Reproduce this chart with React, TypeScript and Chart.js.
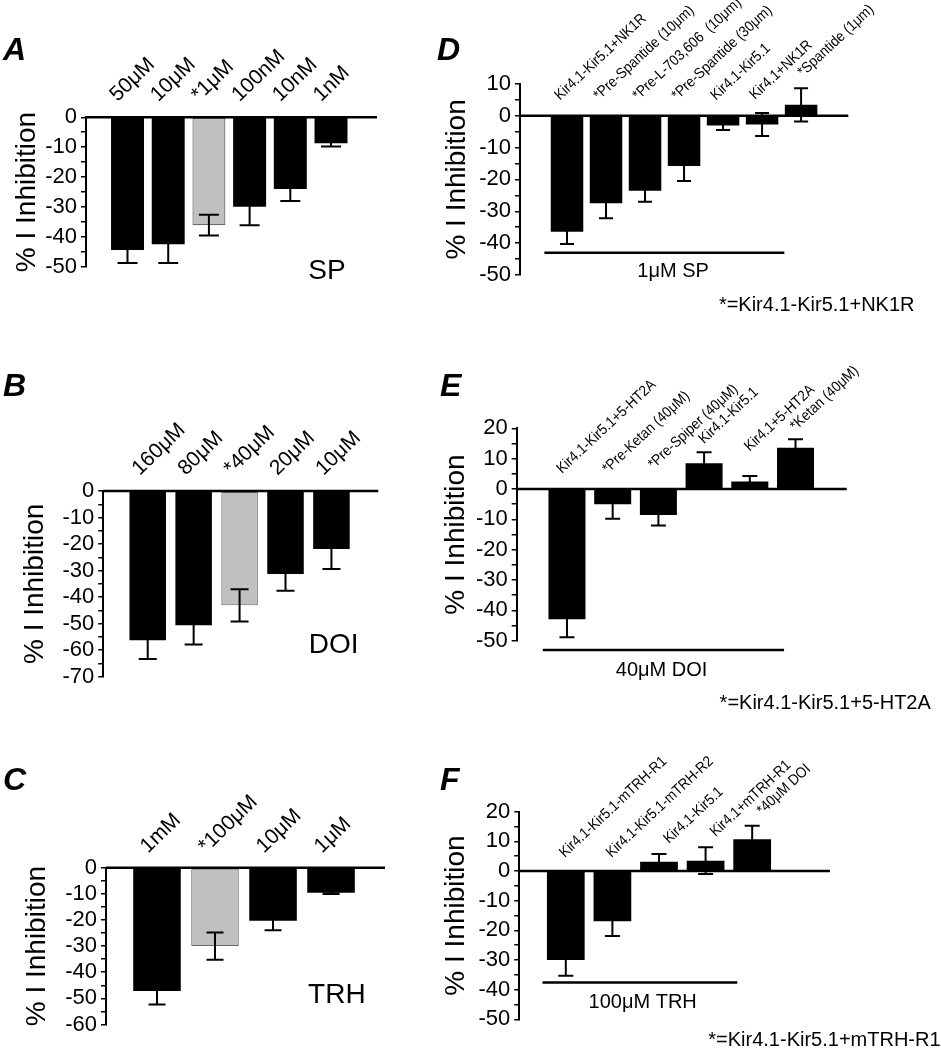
import React, { useEffect, useRef } from 'react';
import { Chart, registerables } from 'chart.js';

Chart.register(...registerables);

const FONT = "'Liberation Sans', Arial, Helvetica, sans-serif";
Chart.defaults.font.family = FONT;
Chart.defaults.color = '#000';

// ---------- data ----------
const Y_TITLE = '% I Inhibition';

const A_LABELS = ['50μM', '10μM', '*1μM', '100nM', '10nM', '1nM'];
const A_MEANS = [-44.4, -42.5, -36.1, -29.9, -24.0, -8.7];
const A_SEMS = [4.4, 6.3, 3.5, 6.2, 4.0, 1.1];
const A_AGONIST = 'SP';

const B_LABELS = ['160μM', '80μM', '*40μM', '20μM', '10μM'];
const B_MEANS = [-56.3, -50.6, -43.1, -31.3, -21.9];
const B_SEMS = [7.0, 7.3, 6.1, 6.3, 7.5];
const B_AGONIST = 'DOI';

const C_LABELS = ['1mM', '*100μM', '10μM', '1μM'];
const C_MEANS = [-47.2, -30.0, -20.3, -9.6];
const C_SEMS = [5.1, 5.2, 3.6, 0.5];
const C_AGONIST = 'TRH';

const D_LABELS = [
  'Kir4.1-Kir5.1+NK1R',
  '*Pre-Spantide (10μm)',
  '*Pre-L-703,606  (10μm)',
  '*Pre-Spantide (30μm)',
  'Kir4.1-Kir5.1',
  'Kir4.1+NK1R',
  '*Spantide (1μm)',
];
const D_MEANS = [-36.4, -27.5, -23.6, -15.8, -3.1, -2.8, 3.4];
const D_SEMS = [3.9, 4.7, 3.4, 4.7, 1.4, 3.6, 5.2];
const D_GROUP = '1μM SP';
const D_FOOTNOTE = '*=Kir4.1-Kir5.1+NK1R';

const E_LABELS = [
  'Kir4.1-Kir5.1+5-HT2A',
  '*Pre-Ketan (40μM)',
  '*Pre-Spiper (40μM)',
  'Kir4.1-Kir5.1',
  'Kir4.1+5-HT2A',
  '*Ketan (40μM)',
];
const E_MEANS = [-42.9, -5.0, -8.6, 8.5, 2.5, 13.6];
const E_SEMS = [6.0, 4.8, 3.4, 3.6, 1.8, 2.8];
const E_GROUP = '40μM DOI';
const E_FOOTNOTE = '*=Kir4.1-Kir5.1+5-HT2A';

const F_LABELS = [
  'Kir4.1-Kir5.1-mTRH-R1',
  'Kir4.1-Kir5.1-mTRH-R2',
  'Kir4.1-Kir5.1',
  'Kir4.1+mTRH-R1',
  '*40μM DOI',
];
const F_MEANS = [-30.0, -16.9, 3.1, 3.5, 10.7];
const F_SEMS = [5.3, 5.0, 2.6, 4.5, 4.6];
const F_GROUP = '100μM TRH';
const F_FOOTNOTE = '*=Kir4.1-Kir5.1+mTRH-R1';

// ---------- layout ----------
type Note = { text: string; x: number; y: number; size: number };
type Group = { x0: number; x1: number; y: number };
type PanelCfg = {
  id: string;
  letter: string;
  letterX: number;
  letterY: number;
  labels: string[];
  means: number[];
  sems: number[];
  highlight: number;
  left: number;
  top: number;
  width: number;
  height: number;
  pad: { top: number; right: number; bottom: number; left: number };
  axisWidth: number;
  titlePad: number;
  yMin: number;
  yMax: number;
  xMin: number;
  xMax: number;
  barPct: number;
  cap: number;
  labelSize: number;
  labelSqueeze: number;
  labelAngle: number;
  labelDx: number;
  labelDy: number;
  capDx: number;
  capDy: number;
  labelSep: number;
  notes: Note[];
  group?: Group;
};

const PANELS: PanelCfg[] = [
  {
    id: 'A', letter: 'A', letterX: 3, letterY: 37,
    labels: A_LABELS, means: A_MEANS, sems: A_SEMS, highlight: 2,
    left: 0, top: 0, width: 420, height: 330,
    pad: { top: 117.3, right: 43, bottom: 63.3, left: 0 },
    axisWidth: 86, titlePad: 10, yMin: -50, yMax: 0, xMin: -1.02, xMax: 6.13,
    barPct: 0.81, cap: 20, labelSize: 21, labelSqueeze: 1, labelAngle: 44, labelDx: -10, labelDy: -15,
    capDx: 0, capDy: -10, labelSep: 30,
    notes: [{ text: A_AGONIST, x: 4.9, y: -51.7, size: 28 }],
  },
  {
    id: 'B', letter: 'B', letterX: 3, letterY: 373,
    labels: B_LABELS, means: B_MEANS, sems: B_SEMS, highlight: 2,
    left: 0, top: 330, width: 420, height: 400,
    pad: { top: 161, right: 41.7, bottom: 53.3, left: 0 },
    axisWidth: 103.3, titlePad: 18, yMin: -70, yMax: 0, xMin: -0.967, xMax: 5.02,
    barPct: 0.795, cap: 18, labelSize: 21, labelSqueeze: 1, labelAngle: 44, labelDx: -8, labelDy: -15,
    capDx: 0, capDy: -10, labelSep: 30,
    notes: [{ text: B_AGONIST, x: 4.05, y: -58.1, size: 28 }],
  },
  {
    id: 'C', letter: 'C', letterX: 3, letterY: 767,
    labels: C_LABELS, means: C_MEANS, sems: C_SEMS, highlight: 1,
    left: 0, top: 730, width: 420, height: 320,
    pad: { top: 137.7, right: 35, bottom: 25.5, left: 0 },
    axisWidth: 106, titlePad: 20, yMin: -60, yMax: 0, xMin: -0.879, xMax: 3.93,
    barPct: 0.82, cap: 17, labelSize: 21, labelSqueeze: 1, labelAngle: 44, labelDx: -9, labelDy: -14,
    capDx: 0, capDy: -10, labelSep: 30,
    notes: [{ text: C_AGONIST, x: 3.1, y: -48.7, size: 28 }],
  },
  {
    id: 'D', letter: 'D', letterX: 437, letterY: 37,
    labels: D_LABELS, means: D_MEANS, sems: D_SEMS, highlight: -1,
    left: 420, top: 0, width: 521, height: 330,
    pad: { top: 83.8, right: 92.7, bottom: 55, left: 0 },
    axisWidth: 100, titlePad: 20, yMin: -50, yMax: 10, xMin: -1.205, xMax: 7.21,
    barPct: 0.833, cap: 14, labelSize: 15, labelSqueeze: 0.9, labelAngle: 43, labelDx: -7, labelDy: -15,
    capDx: 2, capDy: -11, labelSep: 22,
    group: { x0: -0.58, x1: 5.57, y: -43.0 },
    notes: [
      { text: D_GROUP, x: 2.72, y: -49.0, size: 20 },
      { text: D_FOOTNOTE, x: 6.4, y: -59.7, size: 20 },
    ],
  },
  {
    id: 'E', letter: 'E', letterX: 440, letterY: 373,
    labels: E_LABELS, means: E_MEANS, sems: E_SEMS, highlight: -1,
    left: 420, top: 330, width: 521, height: 400,
    pad: { top: 98.3, right: 94.3, bottom: 89.3, left: 0 },
    axisWidth: 96.7, titlePad: 19, yMin: -50, yMax: 20, xMin: -1.1, xMax: 6.12,
    barPct: 0.81, cap: 15, labelSize: 15, labelSqueeze: 0.9, labelAngle: 43, labelDx: -5, labelDy: -15,
    capDx: 0, capDy: -8, labelSep: 22,
    group: { x0: -0.53, x1: 4.75, y: -53.1 },
    notes: [
      { text: E_GROUP, x: 2.07, y: -59.9, size: 20 },
      { text: E_FOOTNOTE, x: 5.65, y: -70.6, size: 20 },
    ],
  },
  {
    id: 'F', letter: 'F', letterX: 440, letterY: 767,
    labels: F_LABELS, means: F_MEANS, sems: F_SEMS, highlight: -1,
    left: 420, top: 730, width: 521, height: 320,
    pad: { top: 81.7, right: 111, bottom: 30.7, left: 0 },
    axisWidth: 99.3, titlePad: 19, yMin: -50, yMax: 20, xMin: -0.998, xMax: 5.67,
    barPct: 0.81, cap: 15, labelSize: 15, labelSqueeze: 0.9, labelAngle: 43, labelDx: -1, labelDy: -13,
    capDx: 10, capDy: -10, labelSep: 22,
    group: { x0: -0.5, x1: 3.68, y: -37.6 },
    notes: [
      { text: F_GROUP, x: 1.65, y: -44.4, size: 20 },
      { text: F_FOOTNOTE, x: 5.55, y: -57.3, size: 20 },
    ],
  },
];

function makeDecor(cfg: PanelCfg) {
  return {
    id: 'decor' + cfg.id,
    afterDatasetsDraw(chart: any) {
      const { ctx, chartArea } = chart;
      const xs = chart.scales.x;
      const ys = chart.scales.y;
      ctx.save();
      ctx.strokeStyle = '#000';
      ctx.fillStyle = '#000';
      // zero line
      const y0 = ys.getPixelForValue(0);
      ctx.lineWidth = 2.5;
      ctx.beginPath();
      ctx.moveTo(chartArea.left, y0);
      ctx.lineTo(chartArea.right, y0);
      ctx.stroke();
      // error bars
      ctx.lineWidth = 2;
      cfg.means.forEach((m, i) => {
        const e = cfg.sems[i];
        const cx = xs.getPixelForValue(i);
        const yt = ys.getPixelForValue(m + e);
        const yb = ys.getPixelForValue(m - e);
        const h = cfg.cap / 2;
        ctx.beginPath();
        ctx.moveTo(cx, yt);
        ctx.lineTo(cx, yb);
        ctx.moveTo(cx - h, yt);
        ctx.lineTo(cx + h, yt);
        ctx.moveTo(cx - h, yb);
        ctx.lineTo(cx + h, yb);
        ctx.stroke();
      });
      // rotated category labels, placed above the bar / error cap,
      // resolved right-to-left so neighbouring labels do not collide
      const slope = Math.tan((cfg.labelAngle * Math.PI) / 180);
      const anchors = cfg.labels.map((_, i) => {
        const cx = xs.getPixelForValue(i);
        const capTop = ys.getPixelForValue(cfg.means[i] + cfg.sems[i]);
        const zeroAnchor = y0 + cfg.labelDy;
        const capAnchor = capTop + cfg.capDy;
        const useCap = capAnchor < zeroAnchor;
        return { x: cx + (useCap ? cfg.capDx : cfg.labelDx), y: useCap ? capAnchor : zeroAnchor };
      });
      for (let i = anchors.length - 2; i >= 0; i--) {
        const nx = anchors[i + 1];
        const limit = nx.y + (nx.x - anchors[i].x) * slope - cfg.labelSep;
        anchors[i].y = Math.min(anchors[i].y, limit);
      }
      cfg.labels.forEach((lab, i) => {
        ctx.save();
        ctx.translate(anchors[i].x, anchors[i].y);
        ctx.rotate((-cfg.labelAngle * Math.PI) / 180);
        ctx.scale(cfg.labelSqueeze, 1);
        ctx.font = `${cfg.labelSize}px ${FONT}`;
        ctx.textAlign = 'left';
        ctx.textBaseline = 'alphabetic';
        ctx.fillText(lab, 0, 0);
        ctx.restore();
      });
      // group line
      if (cfg.group) {
        const g = cfg.group;
        const gy = ys.getPixelForValue(g.y);
        ctx.lineWidth = 2.5;
        ctx.beginPath();
        ctx.moveTo(xs.getPixelForValue(g.x0), gy);
        ctx.lineTo(xs.getPixelForValue(g.x1), gy);
        ctx.stroke();
      }
      // notes
      cfg.notes.forEach((n) => {
        ctx.font = `${n.size}px ${FONT}`;
        ctx.textAlign = 'center';
        ctx.textBaseline = 'middle';
        ctx.fillText(n.text, xs.getPixelForValue(n.x), ys.getPixelForValue(n.y));
      });
      ctx.restore();
    },
  };
}

function Panel({ cfg }: { cfg: PanelCfg }) {
  const ref = useRef<HTMLCanvasElement>(null);
  useEffect(() => {
    const canvas = ref.current;
    if (!canvas) return;
    const data = cfg.means.map((m, i) => ({ x: i, y: m }));
    const chart = new Chart(canvas, {
      type: 'bar',
      data: {
        datasets: [
          {
            data,
            backgroundColor: cfg.means.map((_, i) => (i === cfg.highlight ? '#c0c0c0' : '#000000')),
            borderColor: cfg.means.map((_, i) => (i === cfg.highlight ? '#6a6a6a' : '#000000')),
            borderWidth: cfg.means.map((_, i) => (i === cfg.highlight ? 1.2 : 0)),
            borderSkipped: false,
            barPercentage: cfg.barPct,
            categoryPercentage: 1,
          } as any,
        ],
      },
      options: {
        responsive: false,
        maintainAspectRatio: false,
        animation: false,
        events: [],
        layout: { padding: cfg.pad, autoPadding: false } as any,
        plugins: {
          legend: { display: false },
          tooltip: { enabled: false },
          title: { display: false },
        },
        scales: {
          x: {
            type: 'linear',
            display: false,
            offset: false,
            min: cfg.xMin,
            max: cfg.xMax,
            afterBuildTicks: (s: any) => {
              s.ticks = cfg.means.map((_, i) => ({ value: i }));
            },
          },
          y: {
            type: 'linear',
            position: 'left',
            min: cfg.yMin,
            max: cfg.yMax,
            afterFit: (s: any) => {
              s.width = cfg.axisWidth;
            },
            border: { display: true, color: '#000', width: 2 },
            grid: {
              drawOnChartArea: false,
              drawTicks: true,
              tickLength: 5,
              color: '#000',
              lineWidth: 1.5,
            },
            ticks: {
              stepSize: 5,
              autoSkip: false,
              padding: 4,
              color: '#000',
              font: { size: 22, family: FONT },
              callback: (v: any) => (Math.abs(Number(v) % 10) < 1e-9 ? String(Number(v)) : ''),
            },
            title: {
              display: true,
              text: Y_TITLE,
              color: '#000',
              font: { size: 28, family: FONT },
              padding: { top: cfg.titlePad, bottom: 0 },
            },
          },
        },
      } as any,
      plugins: [makeDecor(cfg)],
    });
    return () => chart.destroy();
  }, [cfg]);
  return (
    <canvas
      ref={ref}
      width={cfg.width}
      height={cfg.height}
      style={{
        position: 'absolute',
        left: cfg.left,
        top: cfg.top,
        width: cfg.width,
        height: cfg.height,
        display: 'block',
      }}
    />
  );
}

export default function App() {
  return (
    <div
      style={{
        position: 'absolute',
        left: 0,
        top: 0,
        width: 941,
        height: 1050,
        background: '#fff',
        overflow: 'hidden',
        fontFamily: FONT,
      }}
    >
      {PANELS.map((p) => (
        <Panel key={p.id} cfg={p} />
      ))}
      {PANELS.map((p) => (
        <div
          key={'L' + p.id}
          style={{
            position: 'absolute',
            left: p.letterX,
            top: p.letterY - 4,
            fontSize: 32,
            lineHeight: '32px',
            fontWeight: 'bold',
            fontStyle: 'italic',
            color: '#000',
          }}
        >
          {p.letter}
        </div>
      ))}
    </div>
  );
}
